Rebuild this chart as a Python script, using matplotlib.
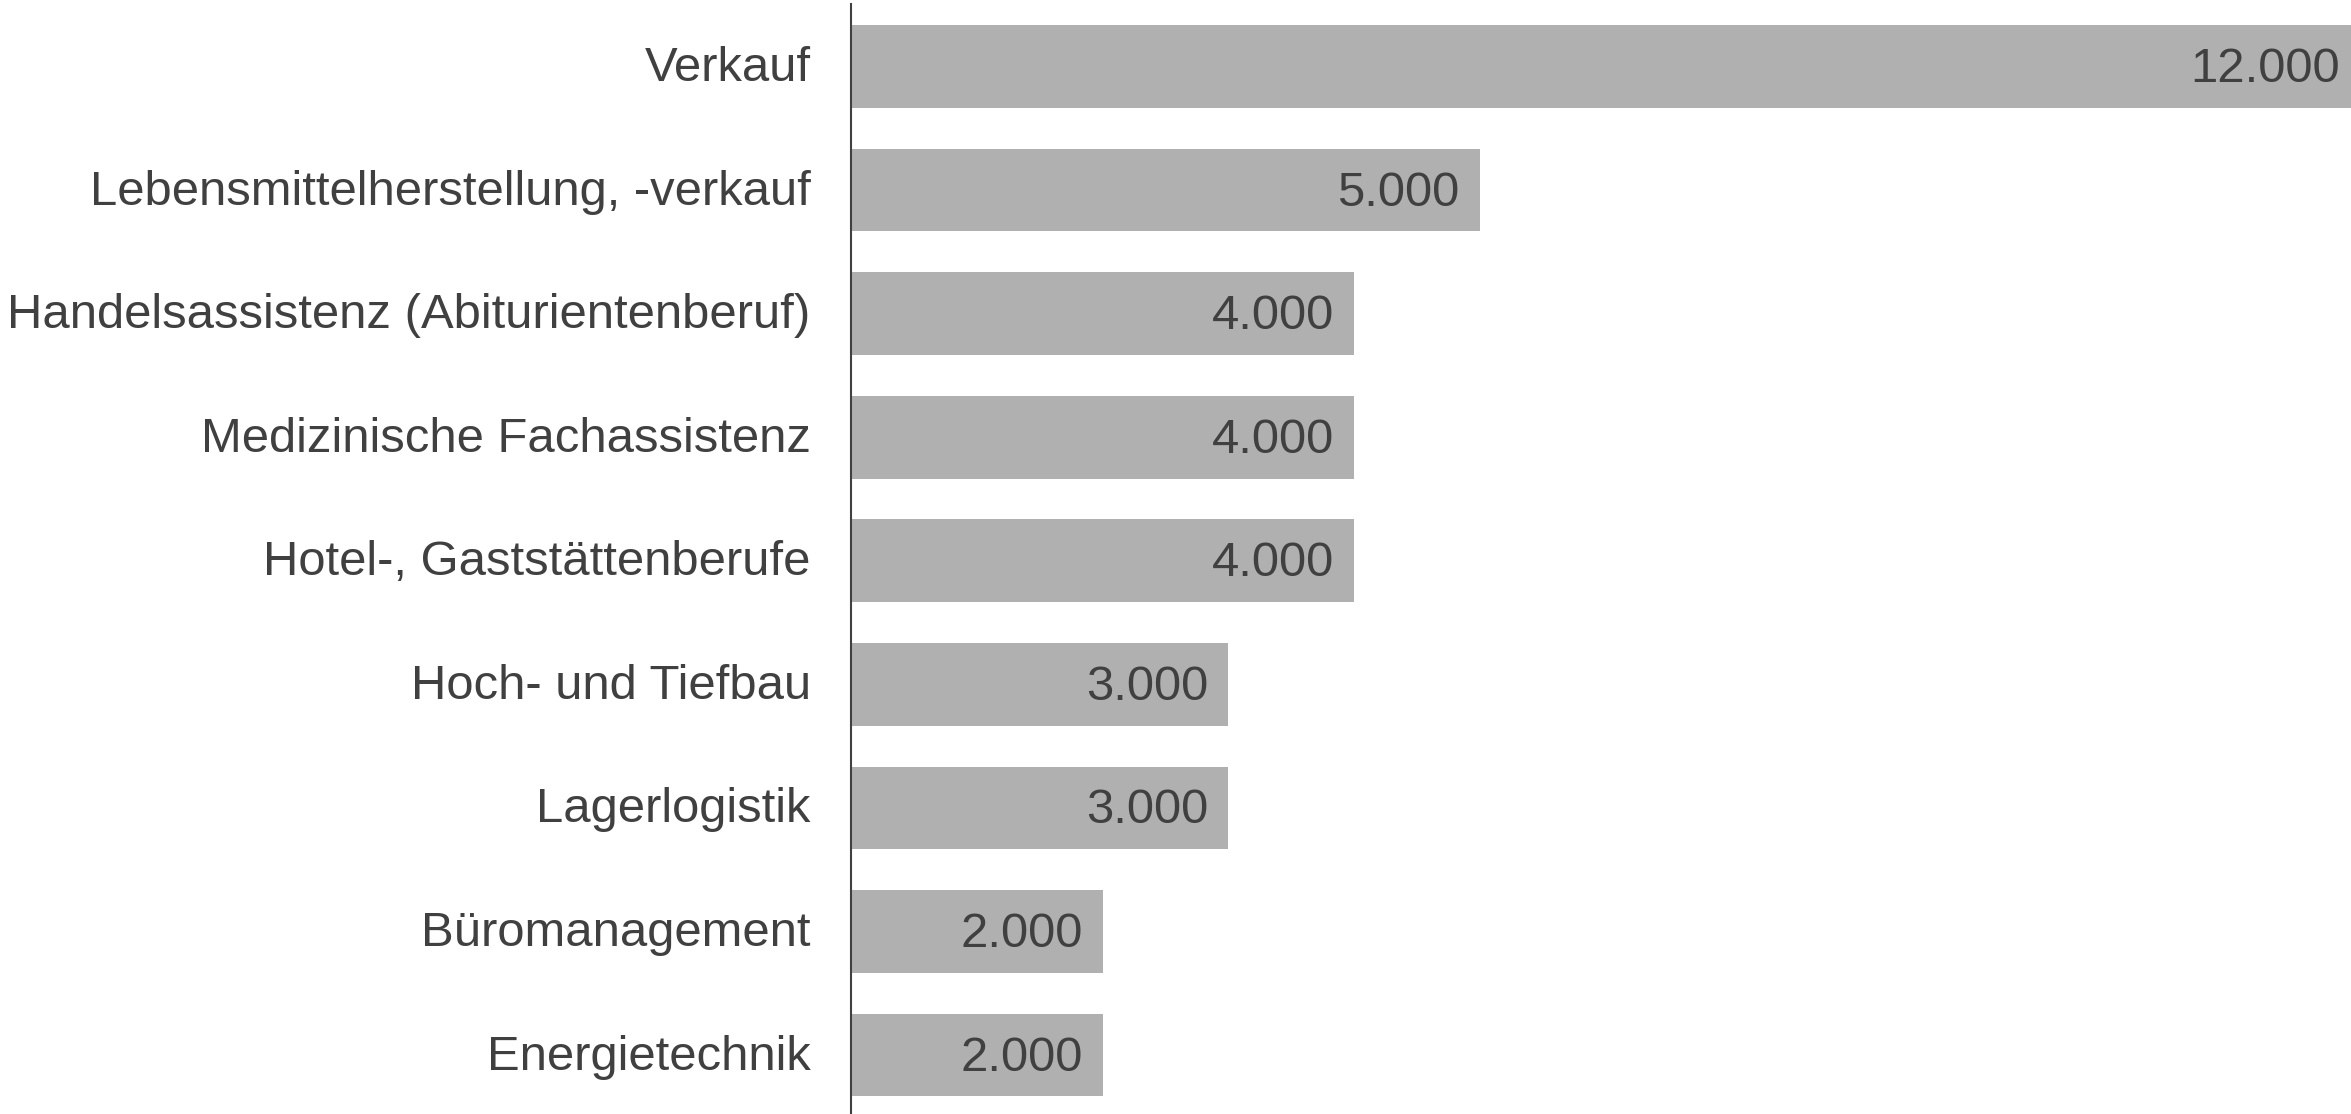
import matplotlib
matplotlib.use("Agg")
import matplotlib.pyplot as plt
import matplotlib.transforms as mtransforms

categories = ["Verkauf", "Lebensmittelherstellung, -verkauf",
              "Handelsassistenz (Abiturientenberuf)", "Medizinische Fachassistenz",
              "Hotel-, Gaststättenberufe", "Hoch- und Tiefbau", "Lagerlogistik",
              "Büromanagement", "Energietechnik"]
values = [12000, 5000, 4000, 4000, 4000, 3000, 3000, 2000, 2000]
value_labels = ["12.000", "5.000", "4.000", "4.000", "4.000", "3.000", "3.000", "2.000", "2.000"]

W, H = 2351, 1114
fig = plt.figure(figsize=(W / 100, H / 100), dpi=100)
left_px, top_px = 851, 4
ax = fig.add_axes([left_px / W, 0, (W - left_px) / W, (H - top_px) / H])

txt = "#404040"
ypos = list(range(len(categories)))
ax.barh(ypos, values, height=0.67, color="#b0b0b0", zorder=2)
ax.set_xlim(0, 11928)
ax.set_ylim(8.477, -0.506)
ax.set_yticks(ypos)
ax.set_yticklabels(categories, fontsize=35.3, color=txt, family="Liberation Sans")
ax.tick_params(axis="y", length=0, pad=29)
off = mtransforms.ScaledTranslation(0, 3 / 100, fig.dpi_scale_trans)
for lab in ax.get_yticklabels():
    lab.set_transform(lab.get_transform() + off)
ax.set_xticks([])
for s in ["top", "right", "bottom"]:
    ax.spines[s].set_visible(False)
ax.spines["left"].set_color("#404040")
ax.spines["left"].set_linewidth(1.5)

for y, v, lab in zip(ypos, values, value_labels):
    ax.annotate(lab, xy=(v, y), xytext=(-20, -3), textcoords="offset pixels",
                ha="right", va="center", fontsize=35.3, color=txt,
                family="Liberation Sans", annotation_clip=False)

fig.savefig("out.png", dpi=100)
